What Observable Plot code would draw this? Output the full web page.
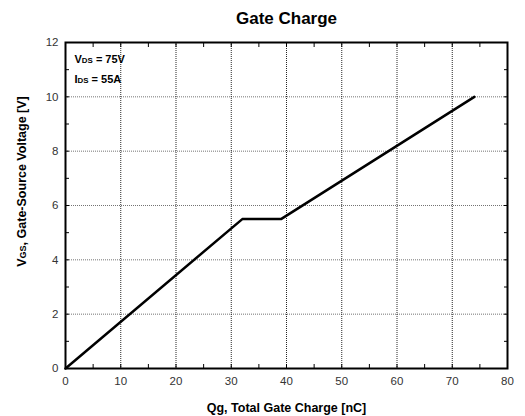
<!DOCTYPE html>
<html><head><meta charset="utf-8">
<script src="https://cdn.jsdelivr.net/npm/d3@7"></script>
<script src="https://cdn.jsdelivr.net/npm/@observablehq/plot@0.6"></script>
<style>body{margin:0;background:#fff;} svg{display:block;}</style>
</head><body><div id="chart"></div>
<script>
const title = "Gate Charge";
const xLabel = "Qg, Total Gate Charge [nC]";
const yLabelParts = ["V", "GS", ", Gate-Source Voltage [V]"];
const qg = [0, 32, 39, 74];
const vgs = [0, 5.5, 5.5, 10];
const xTicks = [0, 10, 20, 30, 40, 50, 60, 70, 80];
const yTicks = [0, 2, 4, 6, 8, 10, 12];
const xMinor = [5, 15, 25, 35, 45, 55, 65, 75];
const yMinor = [1, 3, 5, 7, 9, 11];
const notes = [["V", "DS", " = 75V"], ["I", "DS", " = 55A"]];

const data = qg.map((q, i) => ({q, v: vgs[i]}));
const font = "'Liberation Sans', Arial, sans-serif";

const svg = Plot.plot({
  width: 525, height: 416,
  marginLeft: 65, marginRight: 18, marginTop: 42, marginBottom: 48,
  style: {fontFamily: font, fontSize: "11px", color: "#333", background: "#fff"},
  x: {domain: [0, 80]},
  y: {domain: [0, 12]},
  marks: [
    Plot.gridX(xTicks, {stroke: "#000", strokeOpacity: 0.85, strokeDasharray: "1,1", strokeWidth: 1}),
    Plot.gridY(yTicks, {stroke: "#000", strokeOpacity: 0.55, strokeDasharray: "1,1", strokeWidth: 1}),
    Plot.axisX({ticks: xTicks, tickSize: 0, tickPadding: 8, label: null, fontSize: 11.5}),
    Plot.axisY({ticks: yTicks, tickSize: 0, tickPadding: 7, label: null, fontSize: 11.5}),
    Plot.axisX({ticks: xTicks.concat(xMinor), anchor: "bottom", tickSize: 4, dy: -4, text: null, label: null, stroke: "#000"}),
    Plot.axisX({ticks: xTicks.concat(xMinor), anchor: "top", tickSize: 4, dy: 4, text: null, label: null, stroke: "#000"}),
    Plot.axisY({ticks: yTicks.concat(yMinor), anchor: "left", tickSize: 4, dx: 4, text: null, label: null, stroke: "#000"}),
    Plot.axisY({ticks: yTicks.concat(yMinor), anchor: "right", tickSize: 4, dx: -4, text: null, label: null, stroke: "#000"}),
    Plot.line(data, {x: "q", y: "v", stroke: "#000", strokeWidth: 2.5}),
    Plot.frame({stroke: "#000", strokeWidth: 2}),
    Plot.text([title], {frameAnchor: "top", dy: -24, fontSize: 17, fontWeight: "bold", fill: "#000", lineAnchor: "middle"}),
    Plot.text([xLabel], {frameAnchor: "bottom", dy: 39, fontSize: 12.5, fontWeight: "bold", fill: "#000", lineAnchor: "middle"}),
    Plot.text([yLabelParts.join("")], {frameAnchor: "left", dx: -44, dy: -24, rotate: -90, textAnchor: "middle", fontSize: 12.5, fontWeight: "bold", fill: "#000", lineAnchor: "middle"}),
    Plot.text([notes[0].join("")], {frameAnchor: "top-left", dx: 9, dy: 17, fontSize: 11, fontWeight: "bold", fill: "#000", textAnchor: "start", lineAnchor: "middle"}),
    Plot.text([notes[1].join("")], {frameAnchor: "top-left", dx: 9, dy: 37, fontSize: 11, fontWeight: "bold", fill: "#000", textAnchor: "start", lineAnchor: "middle"})
  ]
});

// subscripts
const subs = [yLabelParts].concat(notes);
d3.select(svg).selectAll("text").each(function() {
  const el = this;
  const txt = el.textContent;
  for (const parts of subs) {
    if (txt === parts.join("")) {
      el.textContent = "";
      const s = d3.select(el);
      s.append("tspan").text(parts[0]);
      s.append("tspan").attr("font-size", "0.72em").text(parts[1]);
      s.append("tspan").text(parts[2]);
    }
  }
});
document.getElementById("chart").appendChild(svg);
</script>
</body></html>
